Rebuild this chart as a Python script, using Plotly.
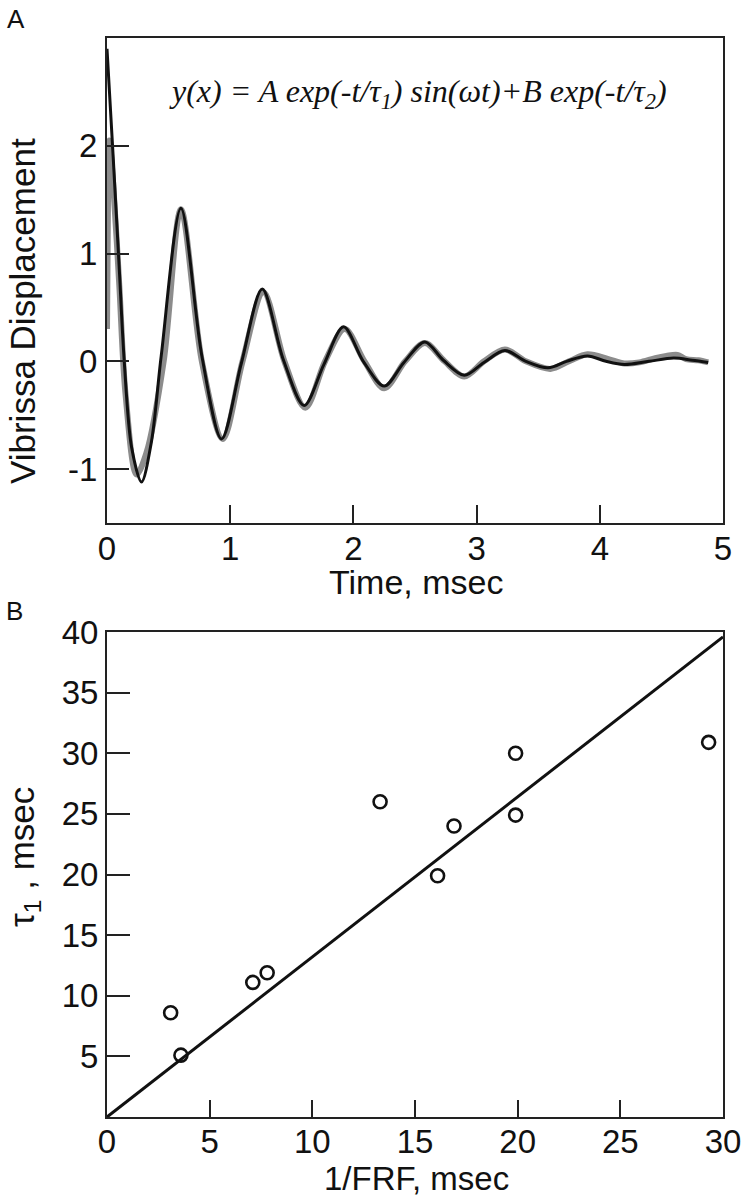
import plotly.graph_objects as go

# ---------------- Panel A data ----------------
t_data = [0, 0.008, 0.02, 0.05, 0.10, 0.15, 0.24, 0.32, 0.46, 0.60, 0.77, 0.94, 1.10, 1.27,
          1.44, 1.61, 1.77, 1.93, 2.09, 2.25, 2.42, 2.58, 2.74, 2.90, 3.06, 3.23, 3.40,
          3.60, 3.75, 3.90, 4.07, 4.20, 4.32, 4.45, 4.54, 4.63, 4.70, 4.80, 4.88]
y_data = [0.30, 1.50, 2.05, 1.65, 0.70, -0.30, -1.05, -0.85, 0.00, 1.41, 0.00, -0.72, 0.00, 0.64,
          0.00, -0.43, 0.00, 0.30, 0.00, -0.25, 0.00, 0.17, 0.00, -0.14, 0.00, 0.11, 0.00,
          -0.07, 0.00, 0.065, 0.02, -0.02, -0.01, 0.03, 0.05, 0.06, 0.02, 0.01, -0.01]

t_fit = [0, 0.05, 0.10, 0.14, 0.20, 0.28, 0.36, 0.44, 0.60, 0.77, 0.93, 1.09, 1.26, 1.43,
         1.60, 1.76, 1.92, 2.08, 2.25, 2.41, 2.58, 2.73, 2.90, 3.06, 3.23, 3.40, 3.58,
         3.73, 3.90, 4.05, 4.20, 4.40, 4.60, 4.75, 4.88]
y_fit = [2.90, 1.90, 0.85, 0.00, -0.80, -1.12, -0.75, 0.05, 1.42, 0.05, -0.72, -0.02, 0.67, 0.02,
         -0.41, -0.03, 0.32, 0.00, -0.23, -0.01, 0.18, 0.01, -0.13, -0.01, 0.10, 0.00, -0.06,
         0.00, 0.05, 0.00, -0.03, 0.00, 0.03, 0.01, -0.01]

# ---------------- Panel B data ----------------
inv_frf = [3.1, 3.6, 7.1, 7.8, 13.3, 16.1, 16.9, 19.9, 19.9, 29.3]
tau1 = [8.6, 5.1, 11.1, 11.9, 26.0, 19.9, 24.0, 30.0, 24.9, 30.9]
line_x = [0, 30]
line_y = [0, 39.6]

W, H = 742, 1200
def px(x):
    return x / W
def py(y):
    return 1 - y / H

fig = go.Figure()
fig.add_trace(go.Scatter(x=t_data, y=y_data, mode="lines",
                         line=dict(color="#8c8c8c", width=6, shape="spline", smoothing=0.9),
                         xaxis="x", yaxis="y", showlegend=False))
fig.add_trace(go.Scatter(x=t_fit, y=y_fit, mode="lines",
                         line=dict(color="#111111", width=3, shape="spline", smoothing=0.9),
                         xaxis="x", yaxis="y", showlegend=False))
fig.add_trace(go.Scatter(x=line_x, y=line_y, mode="lines",
                         line=dict(color="#111111", width=3),
                         xaxis="x2", yaxis="y2", showlegend=False))
fig.add_trace(go.Scatter(x=inv_frf, y=tau1, mode="markers",
                         marker=dict(symbol="circle-open", size=13, color="#111111",
                                     line=dict(width=2.6, color="#111111")),
                         xaxis="x2", yaxis="y2", showlegend=False))

tickfont = dict(family="Liberation Sans, Arial, sans-serif", size=33, color="#111111")
common = dict(showline=True, linecolor="#222222", linewidth=2, mirror=True,
              ticks="inside", tickwidth=2, tickcolor="#222222", showgrid=False,
              zeroline=False, tickfont=tickfont, automargin=False)

fig.update_layout(
    width=W, height=H,
    margin=dict(l=0, r=0, t=0, b=0, pad=0),
    paper_bgcolor="white", plot_bgcolor="white",
    xaxis=dict(domain=[px(107), px(723)], anchor="y", range=[0, 5],
               tickvals=[0, 1, 2, 3, 4, 5], ticklen=18, ticklabelstandoff=-5, **common),
    yaxis=dict(domain=[py(523), py(38)], anchor="x", range=[-1.5, 3],
               tickvals=[-1, 0, 1, 2], ticktext=["-1", "0", "1", "2"], ticklen=22,
               ticklabelstandoff=1, **common),
    xaxis2=dict(domain=[px(107), px(723)], anchor="y2", range=[0, 30],
                tickvals=[0, 5, 10, 15, 20, 25, 30], ticklen=17, ticklabelstandoff=-6, **common),
    yaxis2=dict(domain=[py(1117), py(632)], anchor="x2", range=[0, 40],
                tickvals=[5, 10, 15, 20, 25, 30, 35, 40], ticklen=23, **common),
)

sans = "Liberation Sans, Arial, sans-serif"
annots = [
    dict(text="A", x=px(16), y=py(19), font=dict(family=sans, size=26, color="#111")),
    dict(text="B", x=px(15), y=py(611), font=dict(family=sans, size=26, color="#111")),
    dict(text="Time, msec", x=px(416), y=py(582), font=dict(family=sans, size=34, color="#111")),
    dict(text="1/FRF, msec", x=px(416), y=py(1178), font=dict(family=sans, size=33, color="#111")),
    dict(text="Vibrissa Displacement", x=px(22), y=py(311), textangle=-90,
         font=dict(family=sans, size=35, color="#111")),
    dict(text="τ<sub>1</sub> , msec", x=px(24), y=py(857), textangle=-90,
         font=dict(family=sans, size=35, color="#111")),
    dict(text="<i>y(x) = A exp(-t/τ<sub>1</sub>) sin(ωt)+B exp(-t/τ<sub>2</sub>)</i>",
         x=px(418), y=py(93), font=dict(family="Liberation Serif, Times New Roman, serif", size=32, color="#111")),
]
for a in annots:
    a.update(xref="paper", yref="paper", showarrow=False, xanchor="center", yanchor="middle")
    fig.add_annotation(**a)

# remove the default page margin so figure pixels equal window pixels
fig.write_html("out.html",
               config={"displayModeBar": False, "staticPlot": True},
               post_script="document.body.style.margin='0';document.body.style.overflow='hidden';")
